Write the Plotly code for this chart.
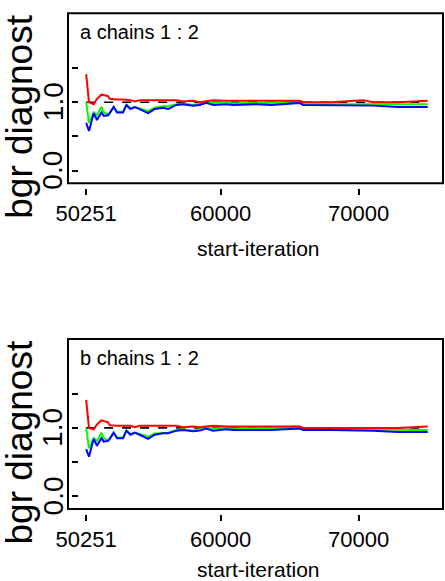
import plotly.graph_objects as go

# ---------------- data ----------------
iterations = [50251, 50456, 50797, 51036, 51355, 51522, 51836, 51957, 52246, 52488,
              52923, 53169, 53459, 53768, 54130, 54734, 55217, 55821, 56184, 56789,
              57270, 57995, 58478, 58961, 59444, 60411, 60894, 62585, 63671, 65725,
              65966, 68000, 70314, 71039, 72850, 75000]

a_red = [1.41, 1.00, 0.97, 1.05, 1.11, 1.10, 1.09, 1.05, 1.04, 1.04,
         1.04, 1.04, 1.03, 1.01, 1.03, 1.03, 1.03, 1.03, 1.03, 1.03,
         1.01, 1.02, 1.00, 1.02, 1.03, 1.02, 1.02, 1.02, 1.03, 1.02,
         1.00, 1.00, 1.03, 1.00, 1.00, 1.02]
a_green = [1.00, 0.70, 0.85, 0.81, 0.93, 0.85, 0.82, 0.84, 0.93, 0.86,
           0.86, 0.96, 0.91, 0.93, 0.91, 0.87, 0.92, 0.94, 0.94, 0.97,
           0.98, 0.96, 0.98, 1.00, 0.99, 1.00, 0.98, 0.99, 0.99, 1.00,
           0.97, 0.97, 0.98, 0.97, 0.97, 0.97]
a_blue = [0.70, 0.58, 0.84, 0.74, 0.85, 0.80, 0.81, 0.84, 0.93, 0.85,
          0.85, 0.96, 0.90, 0.93, 0.90, 0.84, 0.90, 0.92, 0.90, 0.96,
          0.97, 0.95, 0.96, 0.99, 0.96, 0.97, 0.96, 0.97, 0.96, 0.99,
          0.96, 0.96, 0.96, 0.95, 0.93, 0.93]

b_red = [1.41, 1.00, 0.98, 1.05, 1.11, 1.10, 1.08, 1.04, 1.03, 1.03,
         1.03, 1.03, 1.03, 1.01, 1.03, 1.03, 1.03, 1.03, 1.03, 1.03,
         1.01, 1.02, 1.01, 1.02, 1.03, 1.02, 1.02, 1.03, 1.03, 1.02,
         1.00, 1.00, 1.00, 1.00, 1.00, 1.02]
b_green = [1.00, 0.70, 0.85, 0.81, 0.93, 0.85, 0.82, 0.84, 0.93, 0.86,
           0.86, 0.96, 0.91, 0.93, 0.91, 0.87, 0.92, 0.93, 0.93, 0.97,
           0.98, 0.96, 0.98, 1.00, 0.99, 1.00, 0.99, 1.00, 1.00, 1.00,
           0.98, 0.98, 0.98, 0.98, 0.97, 0.97]
b_blue = [0.69, 0.58, 0.84, 0.74, 0.85, 0.80, 0.81, 0.84, 0.93, 0.85,
          0.85, 0.96, 0.90, 0.93, 0.90, 0.84, 0.90, 0.92, 0.92, 0.96,
          0.97, 0.95, 0.96, 0.99, 0.96, 0.98, 0.97, 0.97, 0.97, 0.99,
          0.97, 0.97, 0.97, 0.96, 0.94, 0.94]

ref_x = [50251, 75000]
ref_y = [1.0, 1.0]

panel_titles = ["a chains 1 : 2", "b chains 1 : 2"]
x_tickvals = [50251, 60000, 70000]
x_ticktext = ["50251", "60000", "70000"]
y_tickvals = [0.0, 0.5, 1.0, 1.5]
y_labelvals = [0.0, 1.0]
y_labeltext = ["0.0", "1.0"]
y_title = "bgr diagnost"
x_title = "start-iteration"

# ---------------- figure ----------------
FONT = "Liberation Sans, Arial, sans-serif"
fig = go.Figure()

panels = [
    (a_red, a_green, a_blue, "x", "y"),
    (b_red, b_green, b_blue, "x2", "y2"),
]
for red, green, blue, xa, ya in panels:
    fig.add_trace(go.Scatter(x=ref_x, y=ref_y, mode="lines", xaxis=xa, yaxis=ya,
                             line=dict(color="black", width=1.6, dash="dash"),
                             showlegend=False, hoverinfo="skip"))
    fig.add_trace(go.Scatter(x=iterations, y=green, mode="lines", xaxis=xa, yaxis=ya,
                             line=dict(color="#00ff00", width=2), showlegend=False))
    fig.add_trace(go.Scatter(x=iterations, y=blue, mode="lines", xaxis=xa, yaxis=ya,
                             line=dict(color="#0000ff", width=2), showlegend=False))
    fig.add_trace(go.Scatter(x=iterations, y=red, mode="lines", xaxis=xa, yaxis=ya,
                             line=dict(color="#ff0000", width=2), showlegend=False))

xrange_ = [48935, 76109]
yrange_ = [-0.184, 2.298]

xcommon = dict(range=xrange_, tickvals=x_tickvals, ticktext=x_ticktext,
               ticks="outside", ticklen=6, tickwidth=1.5, tickcolor="black",
               showline=False, showgrid=False, zeroline=False,
               tickfont=dict(family=FONT, size=22, color="black"),
               domain=[0, 1], anchor="free")
ycommon = dict(range=yrange_, tickvals=y_tickvals, showticklabels=False,
               ticks="inside", ticklen=6, tickwidth=1.5, tickcolor="black",
               showline=False, showgrid=False, zeroline=False,
               anchor="free", position=0.0072)

fig.update_layout(
    width=445, height=581,
    margin=dict(l=68, r=2, t=13, b=60),
    paper_bgcolor="white", plot_bgcolor="white",
    xaxis=dict(**xcommon, position=0.6555),
    xaxis2=dict(**xcommon, position=0.01437),
    yaxis=dict(**ycommon, domain=[0.6648, 0.9994]),
    yaxis2=dict(**ycommon, domain=[0.02362, 0.3583]),
)

# frames
for xr, yr in [("x domain", "y domain"), ("x2 domain", "y2 domain")]:
    fig.add_shape(type="rect", xref=xr, yref=yr, x0=0, x1=1, y0=0, y1=1,
                  line=dict(color="black", width=2), fillcolor="rgba(0,0,0,0)")

# y tick labels (rotated, placed on the y scale)
for ya in ["y", "y2"]:
    for v, t in zip(y_labelvals, y_labeltext):
        fig.add_annotation(text=t, xref="paper", yref=ya, x=-0.04, y=v,
                           xanchor="center", yanchor="middle", textangle=-90,
                           showarrow=False,
                           font=dict(family=FONT, size=28, color="black"))

# text
for title, ty, yt, xt in [(panel_titles[0], 0.9626, 0.7963, 0.5374),
                          (panel_titles[1], 0.3215, 0.1551, -0.0950)]:
    fig.add_annotation(text=title, xref="paper", yref="paper", x=0.0267, y=ty,
                       xanchor="left", yanchor="middle", showarrow=False,
                       font=dict(family=FONT, size=20, color="black"))
    fig.add_annotation(text=y_title, xref="paper", yref="paper", x=-0.13, y=yt,
                       xanchor="center", yanchor="middle", textangle=-90,
                       showarrow=False, font=dict(family=FONT, size=37, color="black"))
    fig.add_annotation(text=x_title, xref="paper", yref="paper", x=0.508, y=xt,
                       xanchor="center", yanchor="middle", showarrow=False,
                       font=dict(family=FONT, size=21, color="black"))

fig.write_html("out.html", config={"displayModeBar": False},
               post_script="document.body.style.margin='0px';document.body.style.overflow='hidden';")
